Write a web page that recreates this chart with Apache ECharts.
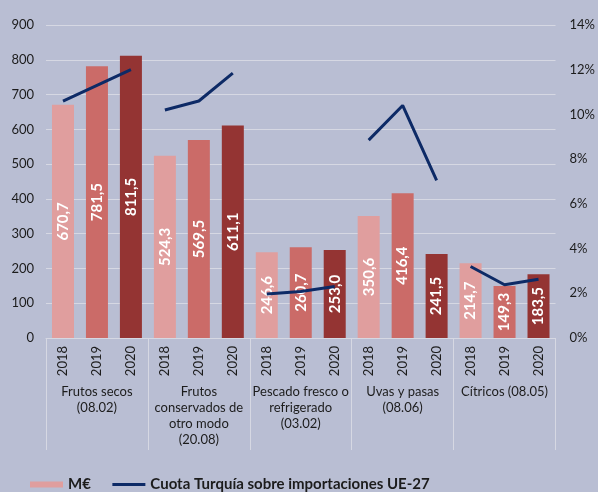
<!DOCTYPE html>
<html>
<head>
<meta charset="utf-8">
<script src="https://cdn.jsdelivr.net/npm/echarts@6/dist/echarts.min.js"></script>
<style>
  html, body { margin: 0; padding: 0; background: #b9bed3; }
  #chart { width: 598px; height: 492px; }
</style>
</head>
<body>
<div id="chart"></div>
<script>
// categorias (grupos de producto) y años
const groups = ['Frutos secos\n(08.02)', 'Frutos\nconservados de\notro modo\n(20.08)', 'Pescado fresco o\nrefrigerado\n(03.02)', 'Uvas y pasas\n(08.06)', 'Cítricos (08.05)']
const years = ['2018', '2019', '2020']

// M€ por grupo y año
const importValues = [
  670.7, 781.5, 811.5,
  524.3, 569.5, 611.1,
  246.6, 260.7, 253.0,
  350.6, 416.4, 241.5,
  214.7, 149.3, 183.5
]

// cuota Turquía sobre importaciones UE-27 (%)
const shareValues = [
  [10.6, 11.3, 12.0],
  [10.2, 10.6, 11.85],
  [1.97, 2.08, 2.3],
  [8.85, 10.4, 7.05],
  [3.2, 2.38, 2.63]
]

const yearColors = ['#e09e9e', '#cb6b68', '#943433']
const lineColor = '#0d2a66'
const lineName = 'Cuota Turquía sobre importaciones UE-27'
const fontFamily = 'Lato, "Open Sans", sans-serif'
const textColor = '#1c1c1c'

const xYears = []
groups.forEach(() => years.forEach(y => xYears.push(y)))

const barData = importValues.map((v, i) => ({
  value: v,
  itemStyle: { color: yearColors[i % 3] }
}))

const lineSeries = shareValues.map((vals, g) => {
  const data = xYears.map(() => '-')
  vals.forEach((v, k) => { data[g * 3 + k] = v })
  return {
    name: lineName,
    type: 'line',
    xAxisIndex: 0,
    yAxisIndex: 1,
    data: data,
    symbol: 'none',
    color: lineColor,
    lineStyle: { color: lineColor, width: 3 },
    z: 3
  }
})

const chart = echarts.init(document.getElementById('chart'))

chart.setOption({
  backgroundColor: '#b9bed3',
  textStyle: { fontFamily: fontFamily },
  animation: false,
  legend: {
    left: 25,
    top: 472,
    itemWidth: 33,
    itemHeight: 6,
    itemGap: 20,
    textStyle: { fontSize: 15, fontWeight: 'bold', color: textColor, fontFamily: fontFamily },
    data: [
      { name: 'M€', icon: 'rect' },
      { name: lineName, itemStyle: { opacity: 0 }, lineStyle: { color: lineColor, width: 3, opacity: 1 } }
    ]
  },
  grid: {
    left: 46,
    right: 40,
    top: 25,
    bottom: 154
  },
  xAxis: [{
    type: 'category',
    data: xYears,
    axisLine: { show: true, lineStyle: { color: '#d6d8e3', width: 1 } },
    axisTick: { show: false },
    axisLabel: {
      rotate: 90,
      margin: 8,
      fontSize: 13,
      color: textColor,
      fontFamily: fontFamily
    }
  }, {
    type: 'category',
    data: groups,
    position: 'bottom',
    axisLine: { show: false },
    axisTick: { show: true, length: 112, lineStyle: { color: '#d6d8e3', width: 1 } },
    axisLabel: {
      margin: 46,
      fontSize: 13,
      lineHeight: 16,
      color: textColor,
      fontFamily: fontFamily,
      interval: 0
    }
  }],
  yAxis: [{
    type: 'value',
    min: 0,
    max: 900,
    interval: 100,
    axisLine: { show: false },
    axisTick: { show: false },
    axisLabel: { margin: 12, fontSize: 13, color: textColor, fontFamily: fontFamily },
    splitLine: { lineStyle: { color: '#d6d8e3', width: 1 } }
  }, {
    type: 'value',
    min: 0,
    max: 14,
    interval: 2,
    axisLine: { show: false },
    axisTick: { show: false },
    axisLabel: { margin: 14, fontSize: 13, color: textColor, fontFamily: fontFamily, formatter: '{value}%' },
    splitLine: { show: false }
  }],
  series: [{
    name: 'M€',
    type: 'bar',
    xAxisIndex: 0,
    yAxisIndex: 0,
    barWidth: 22,
    data: barData,
    color: yearColors[0],
    itemStyle: { color: yearColors[0] },
    label: {
      show: true,
      position: 'inside',
      rotate: 90,
      color: '#ffffff',
      fontSize: 15,
      fontWeight: 'bold',
      fontFamily: fontFamily,
      formatter: p => p.value.toFixed(1).replace('.', ',')
    },
    z: 2
  }].concat(lineSeries)
})
</script>
</body>
</html>
